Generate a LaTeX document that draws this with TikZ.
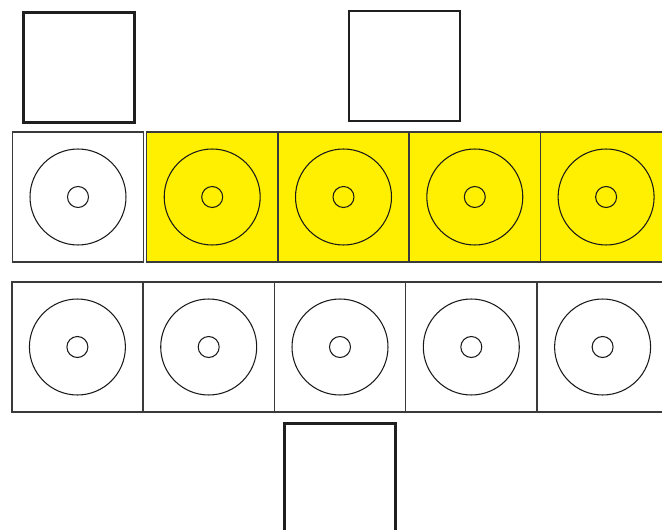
\documentclass[tikz,border=0pt]{standalone}
\usetikzlibrary{positioning}
\definecolor{discyellow}{RGB}{255,239,0}
\definecolor{edgegray}{RGB}{58,58,58}
\begin{document}
\begin{tikzpicture}[x=0.02cm, y=-0.02cm,
    tile/.style={draw=edgegray, line width=0.9pt, minimum width=2.626cm, minimum height=2.61cm, inner sep=0pt, outer sep=0pt},
    yellowtile/.style={tile, fill=discyellow},
    box/.style={draw=black!88, line width=1.5pt, minimum width=2.22cm, minimum height=2.2cm, inner sep=0pt, outer sep=0pt},
    disc/.style={draw=black!90, line width=0.6pt}]
        % Page frame
        \clip (0,0) rectangle (662,530);
        % Empty squares
        \node[box] (S1) at (79.2,67.5) {};
        \node[box] (S2) at (404.5,66) {};
        \node[box] (S3) at (340.2,478.2) {};
        % Upper row: one plain tile and four yellow tiles
        \node[tile] (A0) at (78,197) {};
        \foreach \i in {1,...,4}
          \node[yellowtile] (A\i) at (80.9+131.3*\i,197) {};
        % Lower row
        \foreach \i in {0,...,4}
          \node[tile] (B\i) at (77.4+131.3*\i,347) {};
        % Discs with their holes
        \foreach \i in {0,...,4} {
          \draw[disc] (A\i.center) circle[radius=0.96cm];
          \draw[disc] (A\i.center) circle[radius=0.21cm];
          \draw[disc] (B\i.center) circle[radius=0.96cm];
          \draw[disc] (B\i.center) circle[radius=0.21cm];
        }
      \end{tikzpicture}
\end{document}
